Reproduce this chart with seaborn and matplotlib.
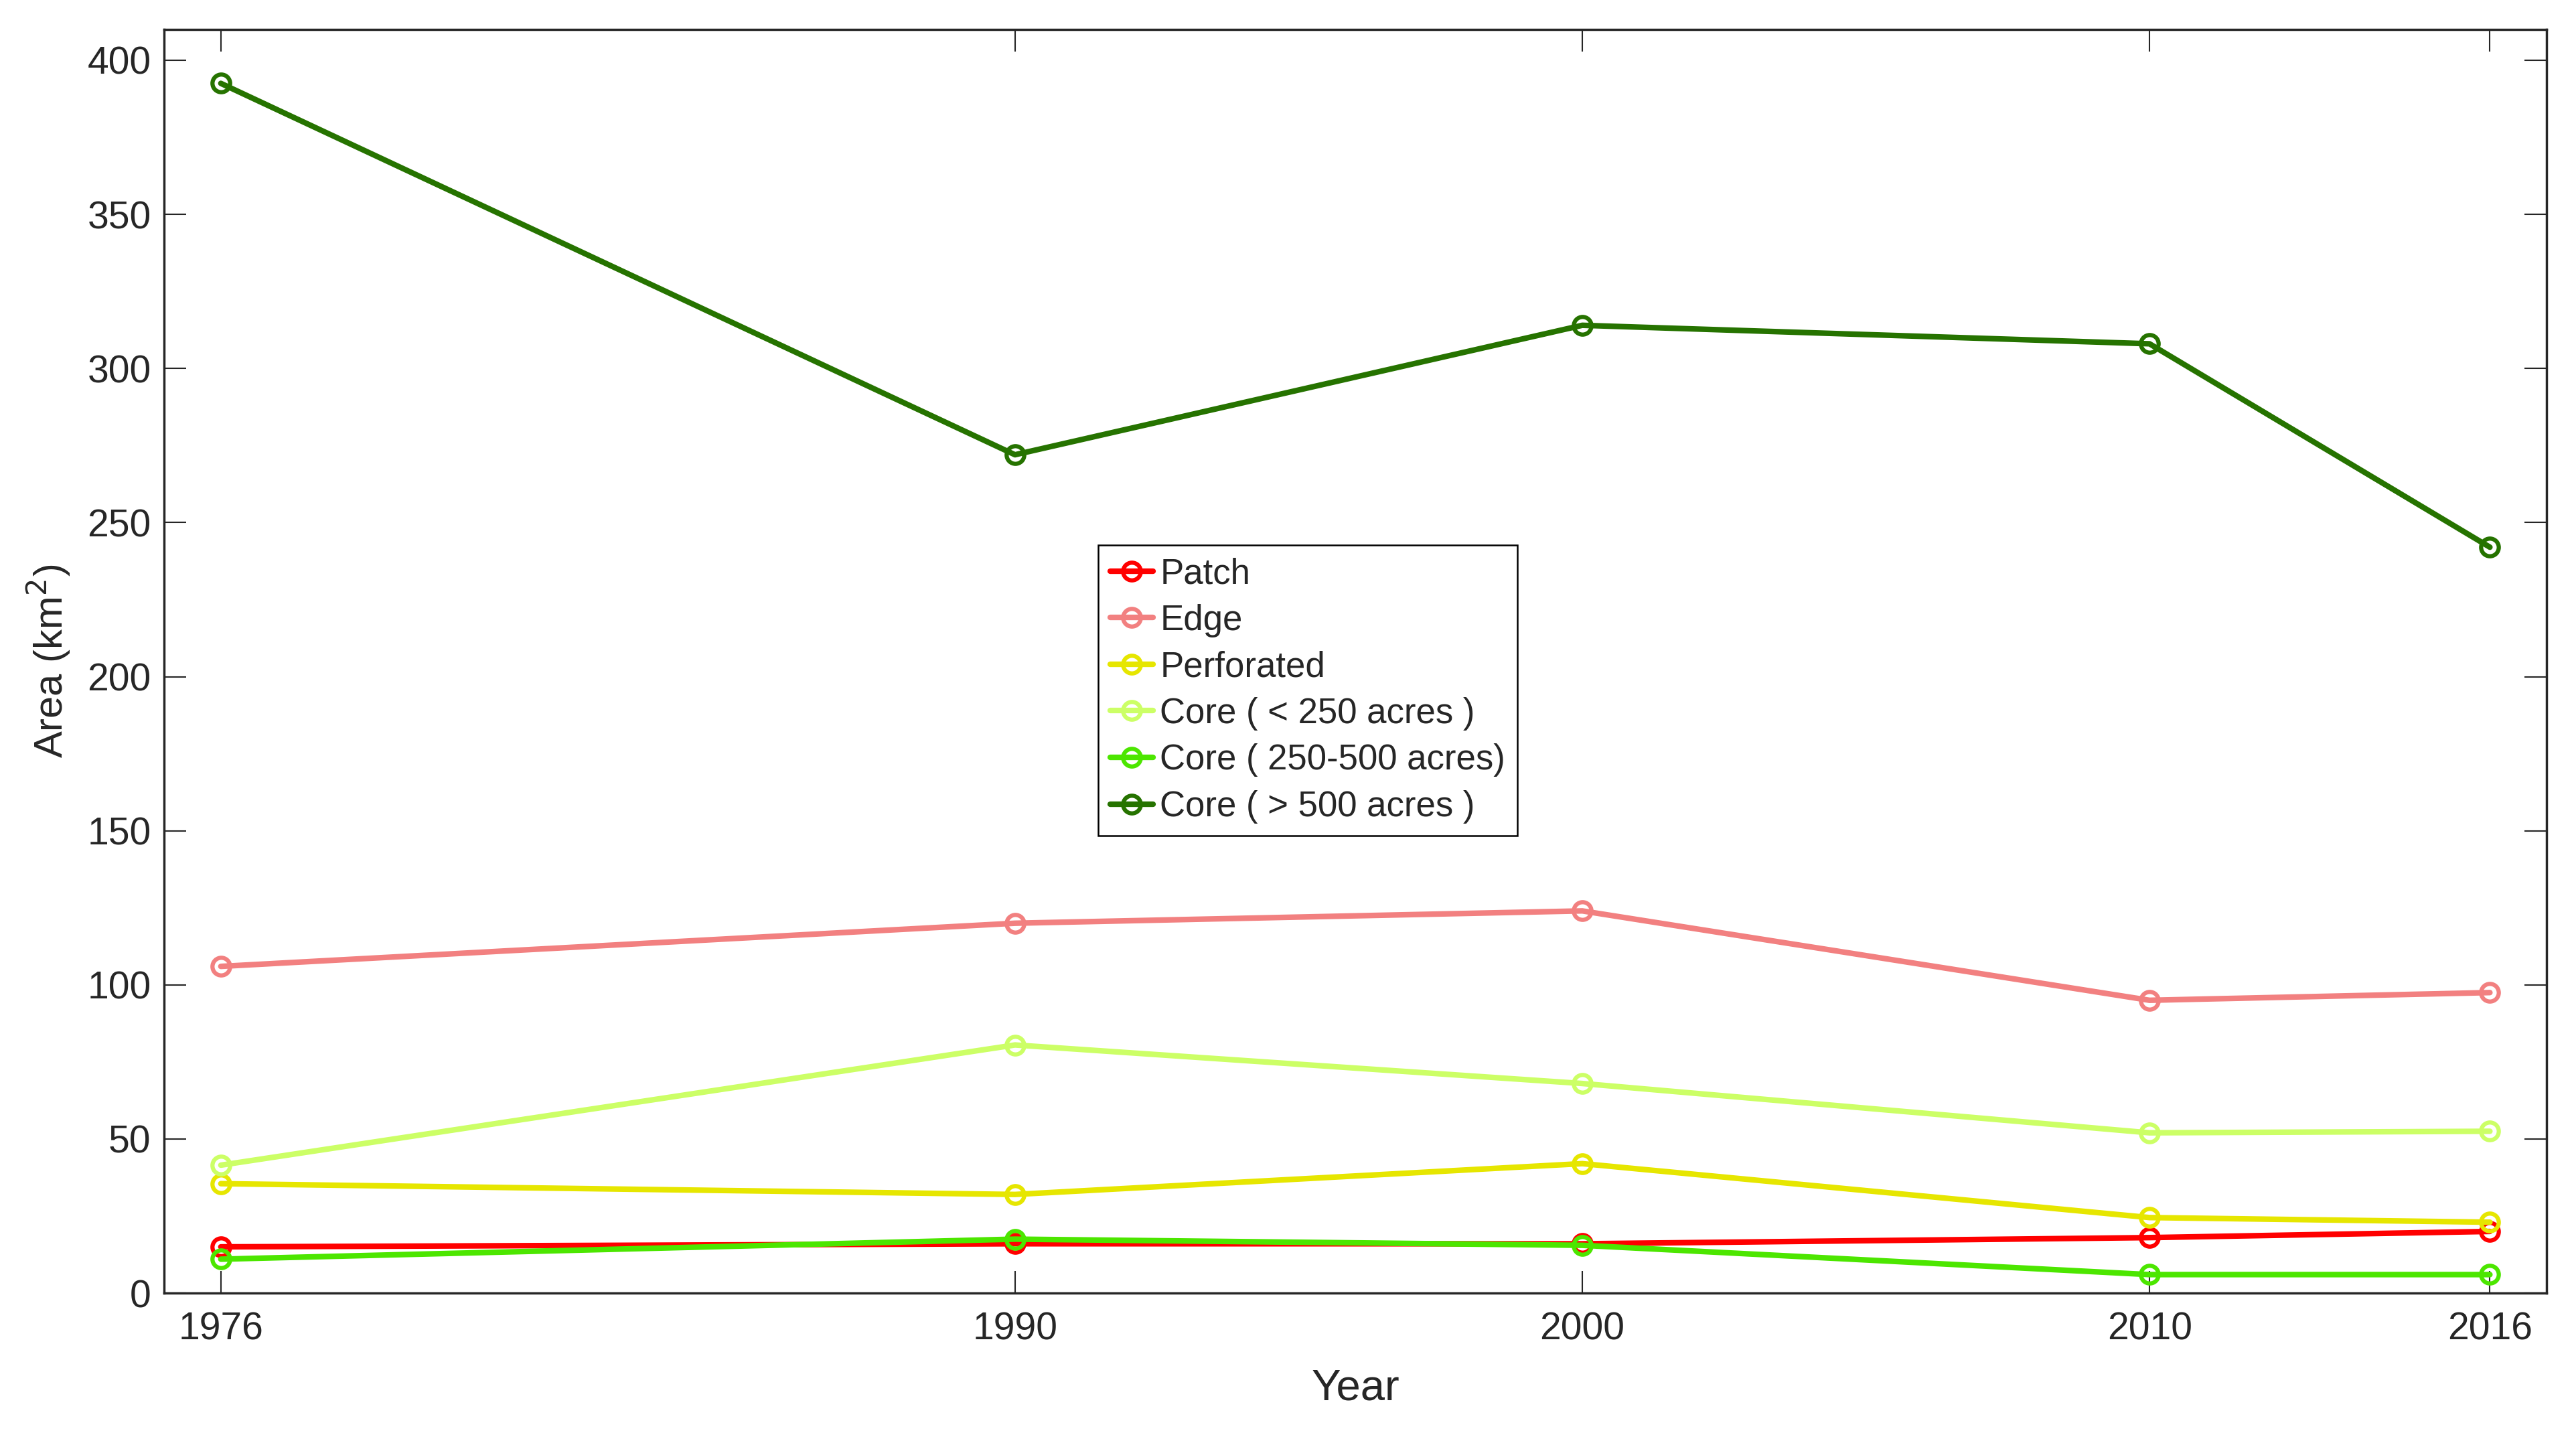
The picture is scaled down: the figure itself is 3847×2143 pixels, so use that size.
import matplotlib.pyplot as plt
import seaborn as sns

# data
years = [1976, 1990, 2000, 2010, 2016]
patch = [15, 16, 16, 18, 20]
edge = [106, 120, 124, 95, 97.5]
perforated = [35.5, 32, 42, 24.5, 23]
core_small = [41.5, 80.5, 68, 52, 52.5]
core_mid = [11, 17.5, 15.5, 6, 6]
core_large = [392.5, 272, 314, 308, 242]

series_names = ['Patch', 'Edge', 'Perforated', 'Core ( < 250 acres )',
                'Core ( 250-500 acres)', 'Core ( > 500 acres )']
series_values = [patch, edge, perforated, core_small, core_mid, core_large]
series_colors = ['#FF0000', '#F28080', '#E6E600', '#CCFF66', '#4CE600', '#267300']

sns.set_style('white')
plt.rcParams['font.family'] = ['Liberation Sans', 'DejaVu Sans']
plt.rcParams['axes.edgecolor'] = '0.15'
plt.rcParams['xtick.color'] = '0.15'
plt.rcParams['ytick.color'] = '0.15'

fig = plt.figure(figsize=(38.47, 21.43), dpi=100)
ax = fig.add_subplot(111)
fig.subplots_adjust(left=0.0637, right=0.9886, bottom=0.0989, top=0.9795)

for name, vals, col in zip(series_names, series_values, series_colors):
    sns.lineplot(x=years, y=vals, ax=ax, color=col, lw=6, marker='o',
                 ms=19, mfc='none', mec=col, mew=4.5, label=name)

ax.set_xlim(1975, 2017)
ax.set_ylim(0, 410)
ax.set_xticks(years)
ax.set_yticks(range(0, 401, 50))
ax.tick_params(axis='both', which='both', direction='in', length=24, width=1.5,
               labelsize=41, top=True, right=True, bottom=True, left=True)
ax.tick_params(axis='x', pad=20)
ax.tick_params(axis='y', pad=14)
for sp in ax.spines.values():
    sp.set_linewidth(2.5)
    sp.set_color('0.15')

ax.set_xlabel('Year', fontsize=47, color='0.15', labelpad=22)
ax.set_ylabel('Area (km$^2$)', fontsize=43, color='0.15', labelpad=16)

leg = ax.legend(loc='upper left', bbox_to_anchor=(0.392, 0.592), fontsize=38,
                frameon=True, fancybox=False, framealpha=1, edgecolor='black',
                handlelength=1.2, handletextpad=0.2, labelspacing=0.37,
                borderpad=0.35, borderaxespad=0)
leg.get_frame().set_linewidth(1.8)

plt.savefig('out.png', dpi=100)
